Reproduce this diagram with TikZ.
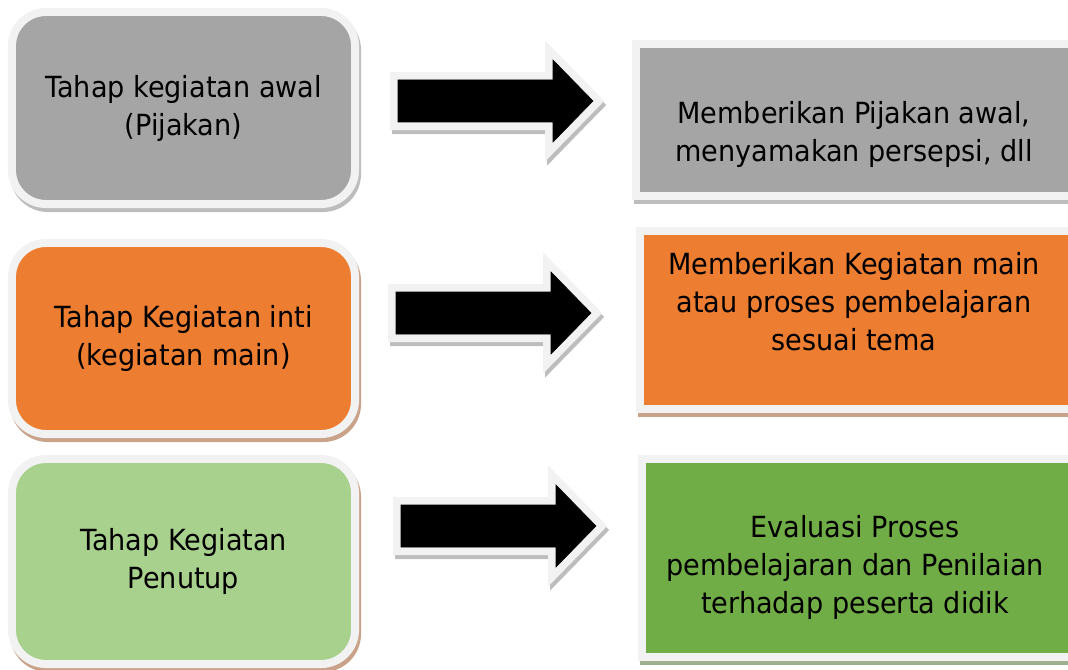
\documentclass[tikz,border=0pt]{standalone}
\usepackage{fontspec}
\setmainfont{DejaVu Sans}[FakeStretch=0.93]
\usetikzlibrary{shadows}

\definecolor{rim}{HTML}{F2F2F2}
\definecolor{abu}{HTML}{A5A5A5}
\definecolor{oranye}{HTML}{ED7D31}
\definecolor{hijaumuda}{HTML}{A9D18E}
\definecolor{hijau}{HTML}{70AD47}
\definecolor{bayangabu}{HTML}{BDBDBD}
\definecolor{bayangcoklat}{HTML}{C9A28A}
\definecolor{bayanghijau}{HTML}{9EAE8E}

\begin{document}
\begin{tikzpicture}[x=0.025cm, y=-0.025cm,
					tahap node/.style={rectangle, rounded corners=0.85cm,
						draw=rim, line width=0.2cm, minimum width=8.575cm,
						align=center, font=\fontsize{20.7}{27}\selectfont},
					isi node/.style={rectangle, draw=rim, line width=0.2cm,
						minimum width=11cm},
					txt/.style={align=center, font=\fontsize{20.7}{27}\selectfont},
					bayang/.style={general shadow={draw=#1, fill=#1, line width=0.2cm,
						shadow xshift=0.05cm, shadow yshift=-0.1cm}},
					panah/.style={general shadow={draw=bayangabu, fill=bayangabu,
						line width=0.4cm, shadow xshift=0.05cm, shadow yshift=-0.1cm},
						preaction={draw=rim, line width=0.4cm, line join=miter},
						fill=black}]

  \useasboundingbox (0,0) rectangle (1068,670);

  % tahap (kiri)
  \node[tahap node, fill=abu, minimum height=4.8cm, bayang=bayangabu]
    (awal) at (183.5,108) {Tahap kegiatan awal\\(Pijakan)};
  \node[tahap node, fill=oranye, minimum height=4.775cm, bayang=bayangcoklat]
    (inti) at (183.5,338.5) {Tahap Kegiatan inti\\(kegiatan main)};
  \node[tahap node, fill=hijaumuda, minimum height=5.125cm, bayang=bayangcoklat]
    (penutup) at (183.5,561.5) {Tahap Kegiatan\\Penutup};

  % isi (kanan)
  \node[isi node, fill=abu, minimum height=3.8cm, bayang=bayangabu]
    (isiawal) at (856,120) {};
  \node[isi node, fill=oranye, minimum height=4.45cm, bayang=bayangcoklat]
    (isiinti) at (860,320) {};
  \node[isi node, fill=hijau, minimum height=4.95cm, bayang=bayanghijau]
    (isipenutup) at (862,558) {};

  \node[txt] (tawal) at (854,134) {Memberikan Pijakan awal,\\menyamakan persepsi, dll};
  \node[txt] (tinti) at (854,302) {Memberikan Kegiatan main\\atau proses pembelajaran\\sesuai tema};
  \node[txt] (tpenutup) at (855,567) {Evaluasi Proses\\pembelajaran dan Penilaian\\terhadap peserta didik};

  % panah blok
  \foreach \x/\y in {398/101, 396/313, 401/526}
    \draw[panah] (\x,\y-21) -- ++(155,0) -- ++(0,-20) -- (\x+195,\y)
      -- (\x+155,\y+41) -- ++(0,-20) -- (\x,\y+21) -- cycle;
\end{tikzpicture}
\end{document}
